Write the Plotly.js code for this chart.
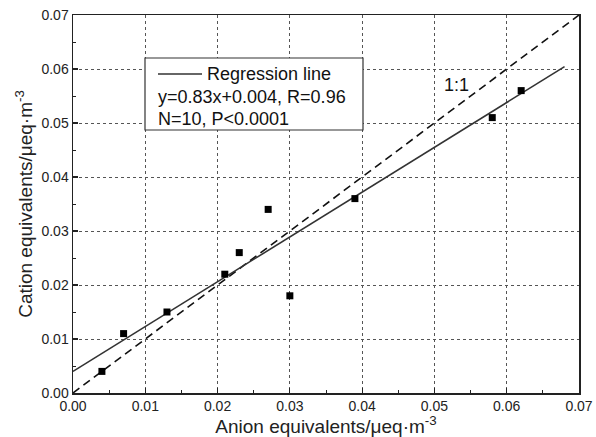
<!DOCTYPE html>
<html><head><meta charset="utf-8">
<script src="https://cdn.plot.ly/plotly-3.0.1.min.js"></script>
<style>html,body{margin:0;padding:0;background:#fff}#chart{width:596px;height:437px}</style>
</head><body><div id="chart"></div>
<script>
const anion = [0.004, 0.007, 0.013, 0.021, 0.023, 0.027, 0.030, 0.039, 0.058, 0.062];
const cation = [0.004, 0.011, 0.015, 0.022, 0.026, 0.034, 0.018, 0.036, 0.051, 0.056];
const regSlope = 0.83, regIntercept = 0.004;
const regX = [0.0, 0.068];
const oneX = [0.0, 0.07];
const tickVals = [0, 0.01, 0.02, 0.03, 0.04, 0.05, 0.06, 0.07];
const legendLines = ["Regression line", "y=0.83x+0.004, R=0.96", "N=10, P<0.0001"];
const ratioLabel = "1:1";

const font = "Arial, 'Liberation Sans', sans-serif";
const px = v => (v - 73) / 506;
const py = v => (393 - v) / 378;
const traces = [
  {x: oneX, y: oneX, mode: 'lines', line: {color: '#111', width: 1.6, dash: '8px,5px'}, showlegend: false, hoverinfo: 'skip'},
  {x: regX, y: regX.map(v => regSlope * v + regIntercept), mode: 'lines', line: {color: '#333', width: 1.6}, showlegend: false},
  {x: anion, y: cation, mode: 'markers', marker: {symbol: 'square', size: 7, color: '#000'}, showlegend: false}
];
const axisCommon = {
  range: [0, 0.07], tickvals: tickVals, tickformat: '.2f',
  showline: true, linecolor: '#222', linewidth: 1.5, mirror: true,
  ticks: 'inside', ticklen: 5, tickwidth: 1.2, tickcolor: '#222',
  minor: {dtick: 0.005, tick0: 0, ticks: 'inside', ticklen: 3, tickwidth: 1, tickcolor: '#222', showgrid: false},
  showgrid: true, gridcolor: '#555', gridwidth: 1, griddash: 'dot',
  zeroline: false, tickfont: {family: font, size: 14, color: '#222'}
};
const layout = {
  width: 596, height: 437,
  margin: {l: 73, r: 17, t: 15, b: 44},
  paper_bgcolor: '#fff', plot_bgcolor: '#fff',
  xaxis: Object.assign({}, axisCommon, {
    title: {text: 'Anion equivalents/μeq·m<sup>-3</sup>', font: {family: font, size: 19, color: '#222'}, standoff: 2}
  }),
  yaxis: Object.assign({}, axisCommon, {
    title: {text: 'Cation equivalents/μeq·m<sup>-3</sup>', font: {family: font, size: 19, color: '#222'}, standoff: 4}
  }),
  shapes: [
    {type: 'rect', xref: 'paper', yref: 'paper', x0: px(145), x1: px(363), y0: py(130), y1: py(58), line: {color: '#333', width: 1.2}, fillcolor: '#fff', layer: 'above'},
    {type: 'line', xref: 'paper', yref: 'paper', x0: px(158), x1: px(202), y0: py(74), y1: py(74), line: {color: '#333', width: 1.5}, layer: 'above'}
  ],
  annotations: [
    {xref: 'paper', yref: 'paper', x: px(205), y: py(74), xanchor: 'left', yanchor: 'middle', text: legendLines[0], showarrow: false, font: {family: font, size: 18, color: '#111'}},
    {xref: 'paper', yref: 'paper', x: px(156), y: py(97), xanchor: 'left', yanchor: 'middle', text: legendLines[1], showarrow: false, font: {family: font, size: 18, color: '#111'}},
    {xref: 'paper', yref: 'paper', x: px(156), y: py(119), xanchor: 'left', yanchor: 'middle', text: legendLines[2], showarrow: false, font: {family: font, size: 18, color: '#111'}},
    {x: 0.0531, y: 0.057, text: ratioLabel, showarrow: false, font: {family: font, size: 18, color: '#111'}}
  ]
};
Plotly.newPlot('chart', traces, layout, {staticPlot: true});
</script></body></html>
